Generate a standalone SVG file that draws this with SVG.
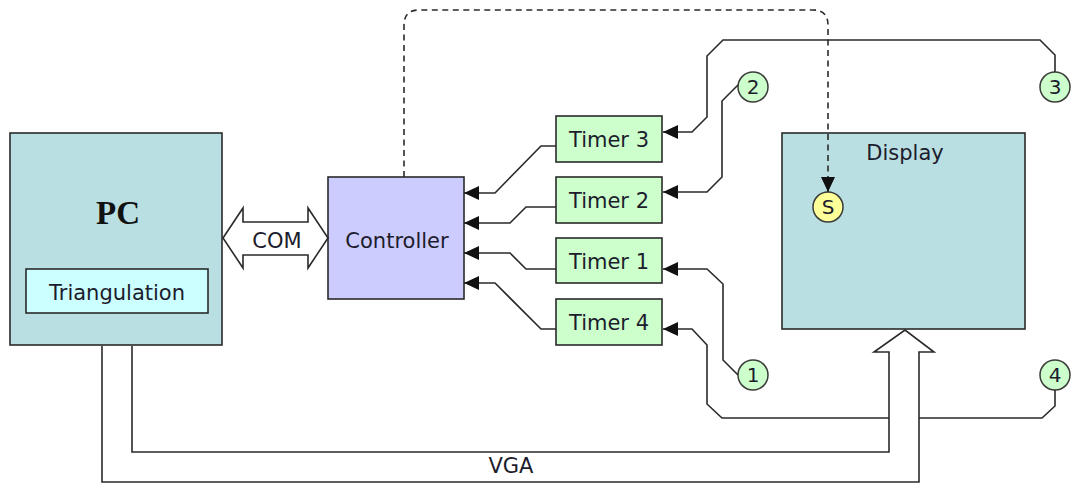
<svg xmlns="http://www.w3.org/2000/svg" width="1073" height="483" viewBox="0 0 1073 483">
  <defs>
    <marker id="arrow" viewBox="0 0 15 14" refX="15" refY="7" markerWidth="15" markerHeight="14" markerUnits="userSpaceOnUse" orient="auto">
      <path d="M0,0 L15,7 L0,14 Z" fill="#111"/>
    </marker>
    <style>
      .box { stroke: #2a2a2a; stroke-width: 1.6; }
      .lbl { font-family: "DejaVu Sans", Verdana, sans-serif; font-size: 21px; fill: #1c1c2c; text-anchor: middle; }
      .num { font-family: "DejaVu Sans", Verdana, sans-serif; font-size: 20px; fill: #1c1c2c; text-anchor: middle; }
      .wire { fill: none; stroke: #2a2a2a; stroke-width: 1.6; }
      .dash { fill: none; stroke: #2a2a2a; stroke-width: 1.6; stroke-dasharray: 6 4.5; }
      .pin { fill: #ccffcc; stroke: #3a3a3a; stroke-width: 1.5; }
      .block { fill: #ffffff; stroke: #2a2a2a; stroke-width: 1.6; stroke-linejoin: miter; }
    </style>
  </defs>

  <g id="pc">
    <rect class="box" x="10" y="133" width="212" height="212" fill="#badfe2"/>
    <text x="118" y="224" font-family="'Liberation Serif', 'Times New Roman', serif" font-weight="bold" font-size="33" fill="#111" text-anchor="middle">PC</text>
  </g>
  <g id="triangulation">
    <rect class="box" x="26" y="269" width="182" height="44" fill="#ccffff"/>
    <text class="lbl" x="117" y="300">Triangulation</text>
  </g>

  <g id="controller">
    <rect class="box" x="328" y="177" width="136" height="122" fill="#ccccff"/>
    <text class="lbl" x="397" y="248">Controller</text>
  </g>

  <g id="timer3">
    <rect class="box" x="556" y="116" width="106" height="46" fill="#ccffcc"/>
    <text class="lbl" x="609" y="147">Timer 3</text>
  </g>
  <g id="timer2">
    <rect class="box" x="556" y="177" width="106" height="46" fill="#ccffcc"/>
    <text class="lbl" x="609" y="208">Timer 2</text>
  </g>
  <g id="timer1">
    <rect class="box" x="556" y="238" width="106" height="45" fill="#ccffcc"/>
    <text class="lbl" x="609" y="269">Timer 1</text>
  </g>
  <g id="timer4">
    <rect class="box" x="556" y="299" width="106" height="46" fill="#ccffcc"/>
    <text class="lbl" x="609" y="330">Timer 4</text>
  </g>

  <g id="display">
    <rect class="box" x="782" y="133" width="243" height="196" fill="#badfe2"/>
    <text class="lbl" x="905" y="160">Display</text>
  </g>
  <g id="start">
    <circle cx="828" cy="207" r="15" fill="#ffff99" stroke="#3a3a3a" stroke-width="1.5"/>
    <text class="num" x="828" y="214">S</text>
  </g>

  <g id="pin1">
    <circle class="pin" cx="753" cy="375" r="15"/>
    <text class="num" x="753" y="382">1</text>
  </g>
  <g id="pin2">
    <circle class="pin" cx="753" cy="87" r="15"/>
    <text class="num" x="753" y="94">2</text>
  </g>
  <g id="pin3">
    <circle class="pin" cx="1055" cy="87" r="15"/>
    <text class="num" x="1055" y="94">3</text>
  </g>
  <g id="pin4">
    <circle class="pin" cx="1055" cy="375" r="15"/>
    <text class="num" x="1055" y="382">4</text>
  </g>

  <!-- wiring between pins, timers and controller; drawn last so the dashed
       start signal runs across the display panel -->
  <g id="connectors">
    <!-- controller signal to display start pin -->
    <path class="dash" d="M404,177 V25 Q404,10 419,10 H813 Q828,10 828,25 V192" marker-end="url(#arrow)"/>
    <!-- sensor pins into timers -->
    <path class="wire" d="M1055,72 V55 L1040,40 H723 L707,56 V117 L692,132 H663" marker-end="url(#arrow)"/>
    <path class="wire" d="M738,85 L722,101 V177 L707,192 H663" marker-end="url(#arrow)"/>
    <path class="wire" d="M738,375 L723,360 V284 L707,269 H663" marker-end="url(#arrow)"/>
    <path class="wire" d="M1055,390 V406 L1042,418 H722 L707,404 V345 L692,329 H663" marker-end="url(#arrow)"/>
    <!-- timers into controller -->
    <path class="wire" d="M556,146 H541 L495,193 H464" marker-end="url(#arrow)"/>
    <path class="wire" d="M556,207 H526 L510,223 H464" marker-end="url(#arrow)"/>
    <path class="wire" d="M556,269 H526 L510,253 H464" marker-end="url(#arrow)"/>
    <path class="wire" d="M556,329 H541 L495,283 H464" marker-end="url(#arrow)"/>
    <!-- COM link -->
    <g id="com">
      <path class="block" d="M223,238 L243,208 V222 H308 V208 L328,238 L308,268 V255 H243 V268 Z"/>
      <text class="lbl" x="277" y="248">COM</text>
    </g>
    <!-- VGA link -->
    <g id="vga">
      <path class="block" d="M102,346 V482 H919 V352 H934 L905,330 L874,352 H889 V452 H132 V346"/>
      <text class="lbl" x="511" y="473">VGA</text>
    </g>
  </g>
</svg>
